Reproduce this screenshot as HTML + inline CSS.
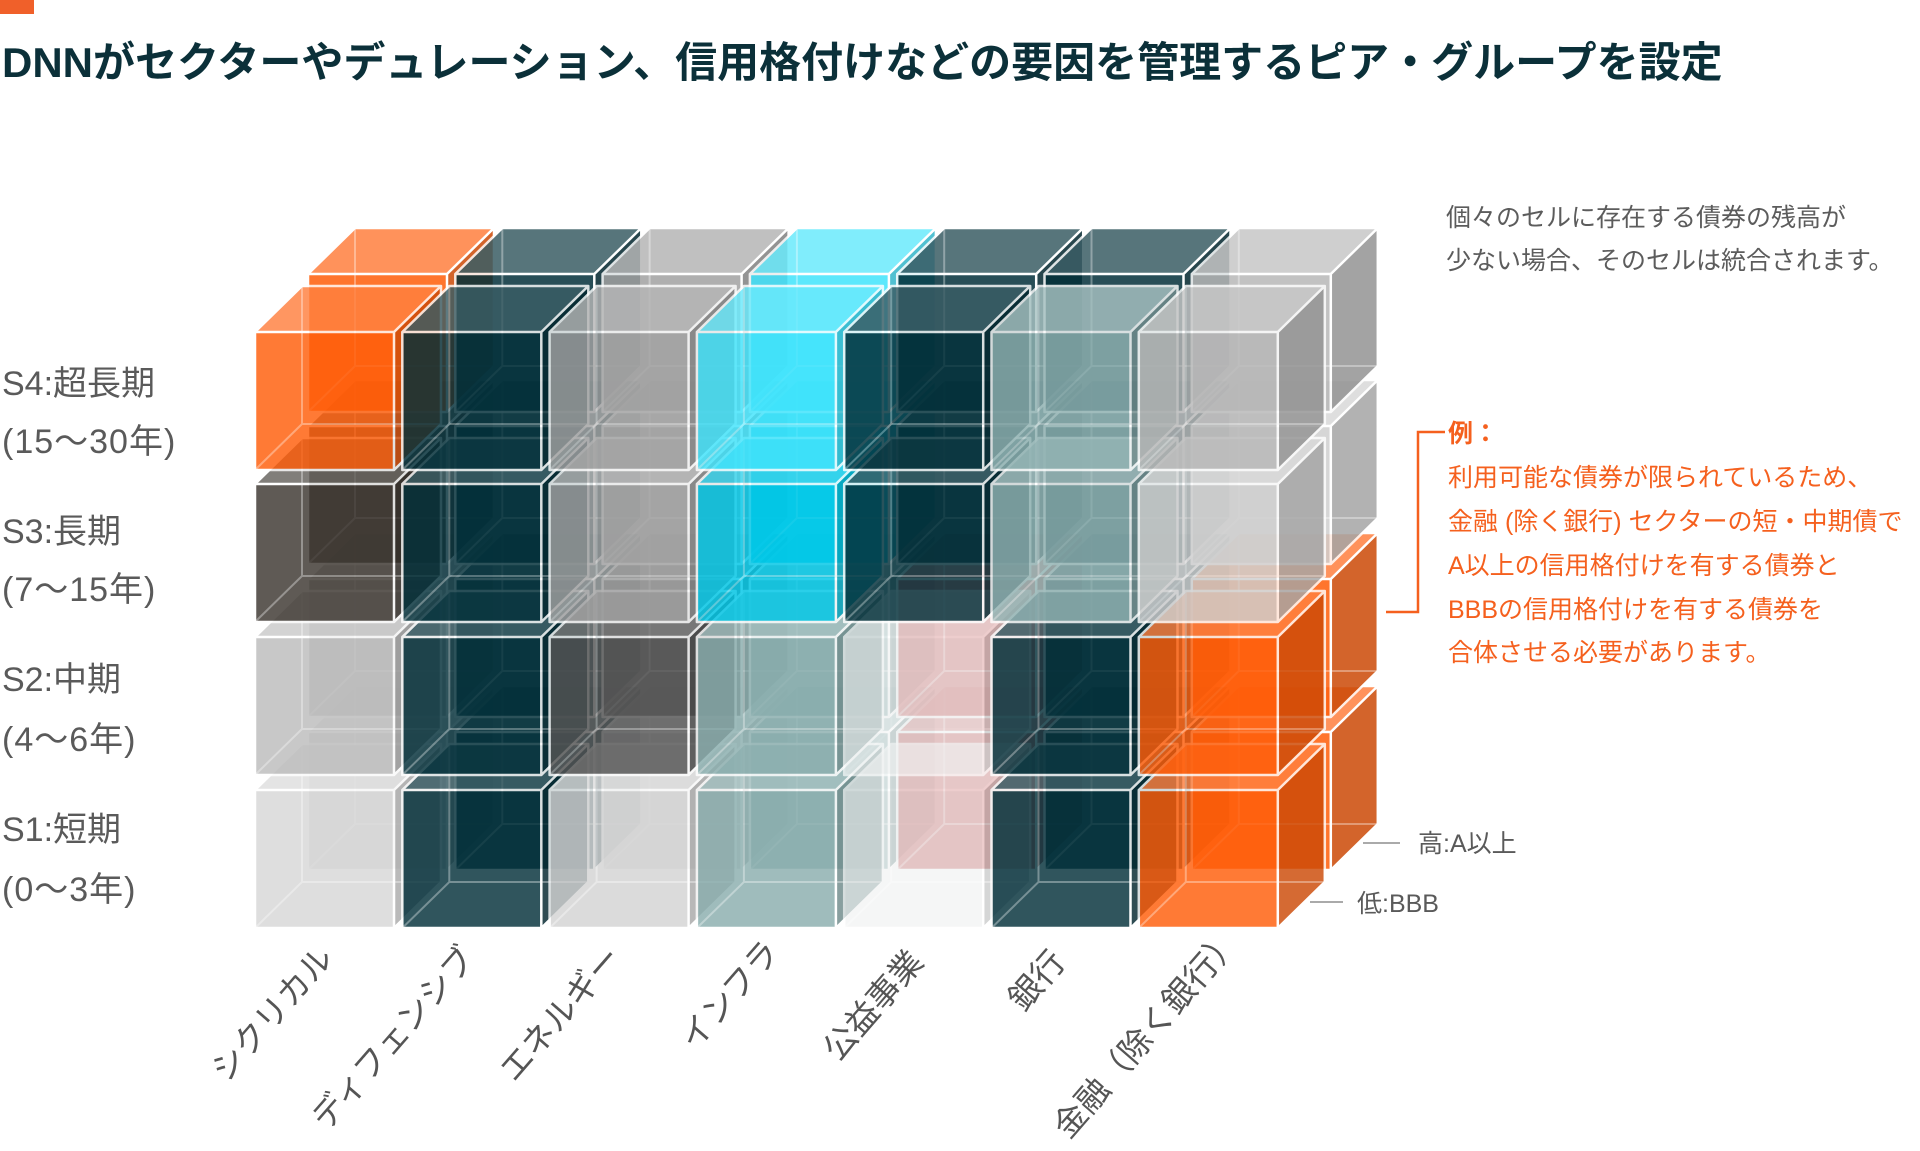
<!DOCTYPE html>
<html lang="ja">
<head>
<meta charset="utf-8">
<style>
  html, body { margin: 0; padding: 0; background: #ffffff; }
  body { width: 1920px; height: 1151px; overflow: hidden; position: relative; }
  svg { position: absolute; left: 0; top: 0; display: block; }
  .t { font-family: "Liberation Sans", "Noto Sans CJK JP", sans-serif; }
</style>
</head>
<body>
<svg width="1920" height="1151" viewBox="0 0 1920 1151" xmlns="http://www.w3.org/2000/svg">
  <defs>
    <g id="c">
      <polygon points="0,0 47,-46 186,-46 139,0" fill="currentColor"/>
      <polygon points="0,0 47,-46 186,-46 139,0" fill="#ffffff" fill-opacity="0.22"/>
      <polygon points="139,0 186,-46 186,92 139,138" fill="currentColor"/>
      <polygon points="139,0 186,-46 186,92 139,138" fill="#000000" fill-opacity="0.2"/>
      <rect x="0" y="0" width="139" height="138" fill="currentColor"/>
      <path d="M47,-46 V92 H186 M0,138 L47,92" stroke="#ffffff" stroke-opacity="0.35" stroke-width="2" fill="none"/>
      <path d="M0,0 H139 V138 H0 Z M0,0 L47,-46 H186 L139,0 M186,-46 V92 L139,138" stroke="#ffffff" stroke-width="2.5" fill="none" stroke-linejoin="round"/>
    </g>
  </defs>

  <!-- top-left orange mark -->
  <rect x="0" y="0" width="34" height="14" fill="#f0602a"/>

  <!-- title -->
  <text class="t" x="2" y="77" font-size="42" font-weight="bold" fill="#0b3039">DNNがセクターやデュレーション、信用格付けなどの要因を管理するピア・グループを設定</text>

  <!-- ===== BACK LAYER (high: A以上) ===== -->
  <g>
    <!-- S1 -->
    <use href="#c" x="308" y="732" color="#d7d7d7" opacity="0.85"/>
    <use href="#c" x="455.3" y="732" color="#03303a" opacity="0.85"/>
    <use href="#c" x="602.6" y="732" color="#d4d4d4" opacity="0.85"/>
    <use href="#c" x="749.9" y="732" color="#8aaeae" opacity="0.85"/>
    <use href="#c" x="897.2" y="732" color="#c65959" opacity="0.85"/>
    <use href="#c" x="1044.5" y="732" color="#03303a" opacity="0.85"/>
    <use href="#c" x="1191.8" y="732" color="#ff5d09" opacity="0.85"/>
    <!-- S2 -->
    <use href="#c" x="308" y="579" color="#bcbcbc" opacity="0.85"/>
    <use href="#c" x="455.3" y="579" color="#03303a" opacity="0.85"/>
    <use href="#c" x="602.6" y="579" color="#555555" opacity="0.85"/>
    <use href="#c" x="749.9" y="579" color="#8aaeae" opacity="0.85"/>
    <use href="#c" x="897.2" y="579" color="#c65959" opacity="0.85"/>
    <use href="#c" x="1044.5" y="579" color="#03303a" opacity="0.85"/>
    <use href="#c" x="1191.8" y="579" color="#ff5d09" opacity="0.85"/>
    <!-- S3 -->
    <use href="#c" x="308" y="426" color="#3c3630" opacity="0.85"/>
    <use href="#c" x="455.3" y="426" color="#03303a" opacity="0.85"/>
    <use href="#c" x="602.6" y="426" color="#a2a2a2" opacity="0.85"/>
    <use href="#c" x="749.9" y="426" color="#00c8e8" opacity="0.85"/>
    <use href="#c" x="897.2" y="426" color="#03303a" opacity="0.85"/>
    <use href="#c" x="1044.5" y="426" color="#03303a" opacity="0.85"/>
    <use href="#c" x="1191.8" y="426" color="#cfcfcf" opacity="0.85"/>
    <!-- S4 -->
    <use href="#c" x="308" y="274" color="#ff5d09" opacity="0.85"/>
    <use href="#c" x="455.3" y="274" color="#03303a" opacity="0.85"/>
    <use href="#c" x="602.6" y="274" color="#a2a2a2" opacity="0.85"/>
    <use href="#c" x="749.9" y="274" color="#40e4fc" opacity="0.85"/>
    <use href="#c" x="897.2" y="274" color="#03303a" opacity="0.85"/>
    <use href="#c" x="1044.5" y="274" color="#03303a" opacity="0.85"/>
    <use href="#c" x="1191.8" y="274" color="#b8b8b8" opacity="0.85"/>
  </g>

  <!-- ===== FRONT LAYER (low: BBB) ===== -->
  <g>
    <!-- S1 -->
    <use href="#c" x="255" y="790" color="#d7d7d7" opacity="0.82"/>
    <use href="#c" x="402.3" y="790" color="#03303a" opacity="0.82"/>
    <use href="#c" x="549.6" y="790" color="#d4d4d4" opacity="0.82"/>
    <use href="#c" x="696.9" y="790" color="#8aaeae" opacity="0.82"/>
    <use href="#c" x="844.2" y="790" color="#f0f2f2" opacity="0.65"/>
    <use href="#c" x="991.5" y="790" color="#03303a" opacity="0.82"/>
    <use href="#c" x="1138.8" y="790" color="#ff5d09" opacity="0.82"/>
    <!-- S2 -->
    <use href="#c" x="255" y="637" color="#bcbcbc" opacity="0.82"/>
    <use href="#c" x="402.3" y="637" color="#03303a" opacity="0.82"/>
    <use href="#c" x="549.6" y="637" color="#555555" opacity="0.82"/>
    <use href="#c" x="696.9" y="637" color="#8aaeae" opacity="0.82"/>
    <use href="#c" x="844.2" y="637" color="#f0f2f2" opacity="0.65"/>
    <use href="#c" x="991.5" y="637" color="#03303a" opacity="0.82"/>
    <use href="#c" x="1138.8" y="637" color="#ff5d09" opacity="0.82"/>
    <!-- S3 -->
    <use href="#c" x="255" y="484" color="#3c3630" opacity="0.82"/>
    <use href="#c" x="402.3" y="484" color="#03303a" opacity="0.82"/>
    <use href="#c" x="549.6" y="484" color="#a2a2a2" opacity="0.82"/>
    <use href="#c" x="696.9" y="484" color="#00c8e8" opacity="0.82"/>
    <use href="#c" x="844.2" y="484" color="#03303a" opacity="0.82"/>
    <use href="#c" x="991.5" y="484" color="#90b2b2" opacity="0.82"/>
    <use href="#c" x="1138.8" y="484" color="#cfcfcf" opacity="0.82"/>
    <!-- S4 -->
    <use href="#c" x="255" y="332" color="#ff5d09" opacity="0.82"/>
    <use href="#c" x="402.3" y="332" color="#03303a" opacity="0.82"/>
    <use href="#c" x="549.6" y="332" color="#a2a2a2" opacity="0.82"/>
    <use href="#c" x="696.9" y="332" color="#40e4fc" opacity="0.82"/>
    <use href="#c" x="844.2" y="332" color="#03303a" opacity="0.82"/>
    <use href="#c" x="991.5" y="332" color="#90b2b2" opacity="0.82"/>
    <use href="#c" x="1138.8" y="332" color="#b8b8b8" opacity="0.82"/>
  </g>

  <!-- row labels -->
  <g class="t" font-size="34" fill="#5a5a5a">
    <text x="2" y="395">S4:超長期</text>
    <text x="2" y="453" letter-spacing="1">(15～30年)</text>
    <text x="2" y="543">S3:長期</text>
    <text x="2" y="601" letter-spacing="1">(7～15年)</text>
    <text x="2" y="691">S2:中期</text>
    <text x="2" y="751" letter-spacing="1">(4～6年)</text>
    <text x="2" y="841">S1:短期</text>
    <text x="2" y="901" letter-spacing="1">(0～3年)</text>
  </g>

  <!-- column labels (rotated) -->
  <g class="t" font-size="33" fill="#555555" text-anchor="end">
    <text transform="translate(335,959) rotate(-49)">シクリカル</text>
    <text transform="translate(477,959) rotate(-49)">ディフェンシブ</text>
    <text transform="translate(623,959) rotate(-49)">エネルギー</text>
    <text transform="translate(781,953) rotate(-49)">インフラ</text>
    <text transform="translate(925,963) rotate(-49)">公益事業</text>
    <text transform="translate(1067,963) rotate(-49)">銀行</text>
    <text transform="translate(1242,941) rotate(-49)">金融（除く銀行）</text>
  </g>

  <!-- depth labels -->
  <line x1="1363" y1="843" x2="1400" y2="843" stroke="#aaaaaa" stroke-width="2"/>
  <text class="t" x="1418" y="852" font-size="25" fill="#5a5a5a">高:A以上</text>
  <line x1="1310" y1="902" x2="1343" y2="902" stroke="#aaaaaa" stroke-width="2"/>
  <text class="t" x="1357" y="912" font-size="25" fill="#5a5a5a">低:BBB</text>

  <!-- top-right note -->
  <g class="t" font-size="25" fill="#5c5c5c">
    <text x="1446" y="226">個々のセルに存在する債券の残高が</text>
    <text x="1446" y="269">少ない場合、そのセルは統合されます。</text>
  </g>

  <!-- orange bracket and example -->
  <path d="M1445,432 H1418 V612 H1386" stroke="#f5601e" stroke-width="2.5" fill="none"/>
  <g class="t" font-size="25" fill="#f5601e">
    <text x="1448" y="442" font-weight="bold">例：</text>
    <text x="1448" y="486">利用可能な債券が限られているため、</text>
    <text x="1448" y="530">金融 (除く銀行) セクターの短・中期債で</text>
    <text x="1448" y="574">A以上の信用格付けを有する債券と</text>
    <text x="1448" y="618">BBBの信用格付けを有する債券を</text>
    <text x="1448" y="661">合体させる必要があります。</text>
  </g>
</svg>
</body>
</html>
